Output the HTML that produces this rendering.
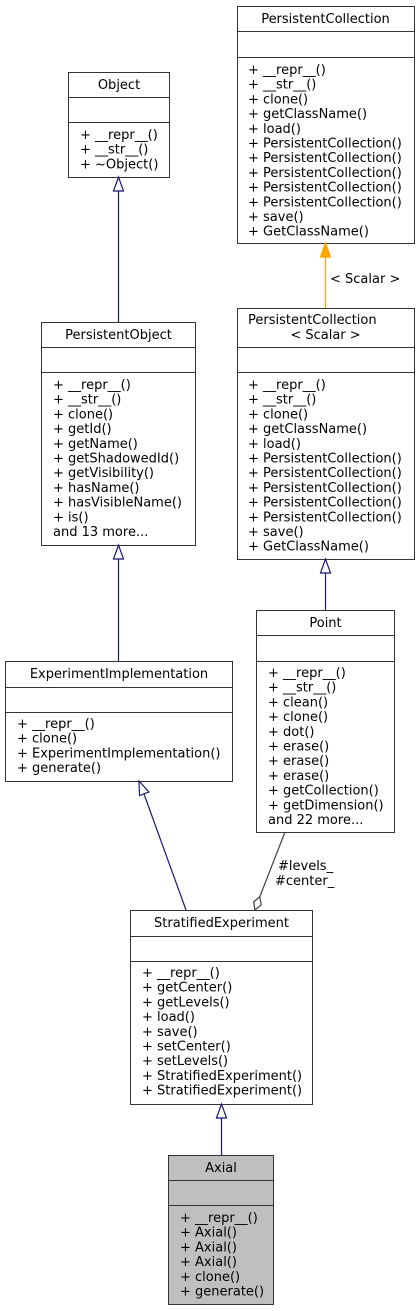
<!DOCTYPE html>
<html><head><meta charset="utf-8"><style>
html,body{margin:0;padding:0;background:#fff;}
svg{display:block;}
text{font-family:"DejaVu Sans","Liberation Sans",sans-serif;font-size:13px;fill:#000;}
.t{text-anchor:middle;}
</style></head><body>
<svg width="419" height="1311" viewBox="0 0 419 1311" xmlns="http://www.w3.org/2000/svg">
<g fill="#fff" stroke="#333" stroke-width="1">
<rect x="237.5" y="6.5" width="177" height="237"/><line x1="237.5" y1="31.5" x2="414.5" y2="31.5"/><line x1="237.5" y1="57.5" x2="414.5" y2="57.5"/>
<rect x="68.5" y="72.5" width="101" height="105"/><line x1="68.5" y1="97.5" x2="169.5" y2="97.5"/><line x1="68.5" y1="122.5" x2="169.5" y2="122.5"/>
<rect x="41.5" y="322.5" width="154" height="223"/><line x1="41.5" y1="347.5" x2="195.5" y2="347.5"/><line x1="41.5" y1="372.5" x2="195.5" y2="372.5"/>
<rect x="237.5" y="308.5" width="177" height="251"/><line x1="237.5" y1="347.5" x2="414.5" y2="347.5"/><line x1="237.5" y1="372.5" x2="414.5" y2="372.5"/>
<rect x="256.5" y="610.5" width="138" height="222"/><line x1="256.5" y1="635.5" x2="394.5" y2="635.5"/><line x1="256.5" y1="661.5" x2="394.5" y2="661.5"/>
<rect x="5.5" y="661.5" width="227" height="120"/><line x1="5.5" y1="687.5" x2="232.5" y2="687.5"/><line x1="5.5" y1="712.5" x2="232.5" y2="712.5"/>
<rect x="130.5" y="910.5" width="182" height="194"/><line x1="130.5" y1="936.5" x2="312.5" y2="936.5"/><line x1="130.5" y1="961.5" x2="312.5" y2="961.5"/>
<rect x="168.5" y="1155.5" width="105" height="149" fill="#bfbfbf"/><line x1="168.5" y1="1180.5" x2="273.5" y2="1180.5"/><line x1="168.5" y1="1205.5" x2="273.5" y2="1205.5"/>
</g>

<g fill="none" stroke="#191970" stroke-width="1.2">
<line x1="118.5" y1="322" x2="118.5" y2="190"/>
<polygon points="118.5,177 113.5,191 123.5,191" fill="#fff"/>
<line x1="118.5" y1="661" x2="118.5" y2="559"/>
<polygon points="118.5,545 113.5,559 123.5,559" fill="#fff"/>
<line x1="325.5" y1="610" x2="325.5" y2="573"/>
<polygon points="325.5,559 320.5,573 330.5,573" fill="#fff"/>
<line x1="186" y1="910" x2="144" y2="794"/>
<polygon points="139,781 139.5,795.5 148.9,792" fill="#fff"/>
<line x1="221.5" y1="1155" x2="221.5" y2="1118"/>
<polygon points="221.5,1104 216.5,1118 226.5,1118" fill="#fff"/>
</g>
<g stroke="#ffa500" stroke-width="1.2" fill="#ffa500">
<line x1="325.5" y1="308" x2="325.5" y2="256"/>
<polygon points="325.5,243 320.5,257 330.5,257"/>
</g>
<g stroke="#404040" stroke-width="1.2" fill="#fff">
<line x1="285" y1="832" x2="259.7" y2="897"/>
<polygon points="255,910 261.2,904.8 259.7,896.8 253.6,902"/>
</g>
<text x="330" y="283">&lt; Scalar &gt;</text>
<text x="278" y="870">#levels_</text>
<text x="275" y="885">#center_</text>

<text class="t" x="325.5" y="23">PersistentCollection</text>
<text x="248" y="74">+ __repr__()</text>
<text x="248" y="88.7">+ __str__()</text>
<text x="248" y="103.4">+ clone()</text>
<text x="248" y="118.1">+ getClassName()</text>
<text x="248" y="132.8">+ load()</text>
<text x="248" y="147.5">+ PersistentCollection()</text>
<text x="248" y="162.2">+ PersistentCollection()</text>
<text x="248" y="176.9">+ PersistentCollection()</text>
<text x="248" y="191.6">+ PersistentCollection()</text>
<text x="248" y="206.3">+ PersistentCollection()</text>
<text x="248" y="221">+ save()</text>
<text x="248" y="235.7">+ GetClassName()</text>

<text class="t" x="119" y="89">Object</text>
<text x="80" y="139">+ __repr__()</text>
<text x="80" y="153.7">+ __str__()</text>
<text x="80" y="168.4">+ ~Object()</text>

<text class="t" x="118.5" y="339">PersistentObject</text>
<text x="53" y="389">+ __repr__()</text>
<text x="53" y="403.7">+ __str__()</text>
<text x="53" y="418.4">+ clone()</text>
<text x="53" y="433.1">+ getId()</text>
<text x="53" y="447.8">+ getName()</text>
<text x="53" y="462.5">+ getShadowedId()</text>
<text x="53" y="477.2">+ getVisibility()</text>
<text x="53" y="491.9">+ hasName()</text>
<text x="53" y="506.6">+ hasVisibleName()</text>
<text x="53" y="521.3">+ is()</text>
<text x="53" y="536">and 13 more...</text>

<text x="248" y="324">PersistentCollection</text>
<text class="t" x="325.5" y="339">&lt; Scalar &gt;</text>
<text x="248" y="389">+ __repr__()</text>
<text x="248" y="403.7">+ __str__()</text>
<text x="248" y="418.4">+ clone()</text>
<text x="248" y="433.1">+ getClassName()</text>
<text x="248" y="447.8">+ load()</text>
<text x="248" y="462.5">+ PersistentCollection()</text>
<text x="248" y="477.2">+ PersistentCollection()</text>
<text x="248" y="491.9">+ PersistentCollection()</text>
<text x="248" y="506.6">+ PersistentCollection()</text>
<text x="248" y="521.3">+ PersistentCollection()</text>
<text x="248" y="536">+ save()</text>
<text x="248" y="550.7">+ GetClassName()</text>

<text class="t" x="325.5" y="627">Point</text>
<text x="268" y="677">+ __repr__()</text>
<text x="268" y="691.7">+ __str__()</text>
<text x="268" y="706.4">+ clean()</text>
<text x="268" y="721.1">+ clone()</text>
<text x="268" y="735.8">+ dot()</text>
<text x="268" y="750.5">+ erase()</text>
<text x="268" y="765.2">+ erase()</text>
<text x="268" y="779.9">+ erase()</text>
<text x="268" y="794.6">+ getCollection()</text>
<text x="268" y="809.3">+ getDimension()</text>
<text x="268" y="824">and 22 more...</text>

<text class="t" x="119" y="678">ExperimentImplementation</text>
<text x="17" y="728">+ __repr__()</text>
<text x="17" y="742.7">+ clone()</text>
<text x="17" y="757.4">+ ExperimentImplementation()</text>
<text x="17" y="772.1">+ generate()</text>

<text class="t" x="221.5" y="927">StratifiedExperiment</text>
<text x="142" y="977">+ __repr__()</text>
<text x="142" y="991.7">+ getCenter()</text>
<text x="142" y="1006.4">+ getLevels()</text>
<text x="142" y="1021.1">+ load()</text>
<text x="142" y="1035.8">+ save()</text>
<text x="142" y="1050.5">+ setCenter()</text>
<text x="142" y="1065.2">+ setLevels()</text>
<text x="142" y="1079.9">+ StratifiedExperiment()</text>
<text x="142" y="1094.6">+ StratifiedExperiment()</text>

<text class="t" x="221" y="1172">Axial</text>
<text x="180" y="1222">+ __repr__()</text>
<text x="180" y="1236.7">+ Axial()</text>
<text x="180" y="1251.4">+ Axial()</text>
<text x="180" y="1266.1">+ Axial()</text>
<text x="180" y="1280.8">+ clone()</text>
<text x="180" y="1295.5">+ generate()</text>
</svg>
</body></html>
